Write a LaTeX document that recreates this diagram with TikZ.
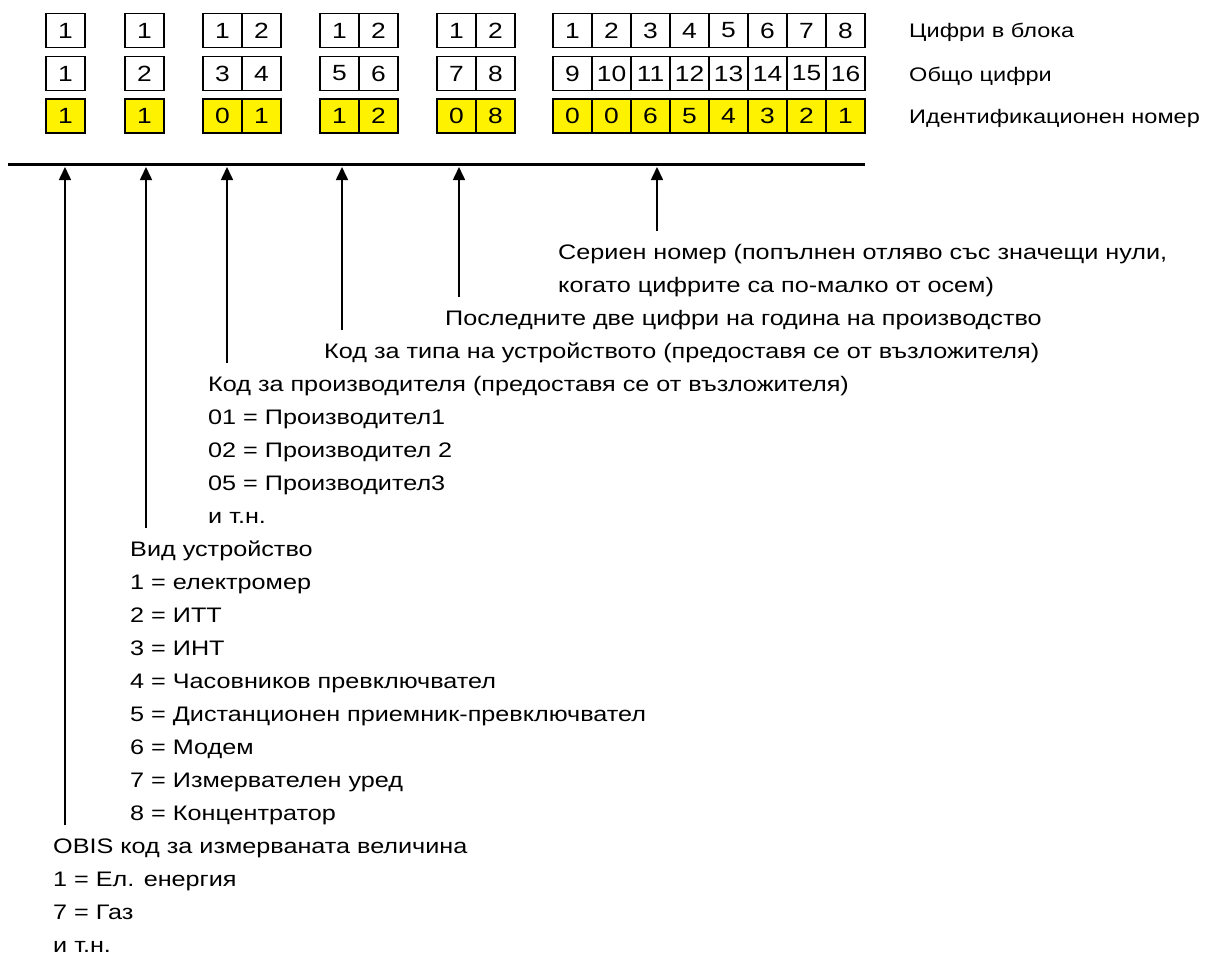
\documentclass[tikz,border=0pt]{standalone}
\usepackage{fontspec}
\setmainfont[FakeStretch=1.2]{Liberation Sans}
\usetikzlibrary{arrows.meta}
\begin{document}
\begin{tikzpicture}[x=1pt,y=-1pt,
		cell/.style={draw,line width=1.2pt,minimum width=39pt,minimum height=34pt,inner sep=0pt,font=\fontsize{22}{22}\selectfont},
		idcell/.style={cell,fill=yellow},
		rowlabel/.style={anchor=west,inner sep=0pt,font=\fontsize{19.6}{24}\selectfont},
		note/.style={anchor=north west,align=left,inner xsep=0pt,inner ysep=5pt,font=\fontsize{21}{33}\selectfont},
		pfeil/.style={line width=1.6pt,-{Triangle[length=13pt,width=12pt]}}]
			\fill[white] (0,0) rectangle (1213,955);
			\useasboundingbox (0,0) rectangle (1213,955);
			\foreach \g/\left/\off/\digs in {a/46/0/{1}, b/125/1/{1}, c/203/2/{0,1}, d/320/4/{1,2}, e/437/6/{0,8}, f/553/8/{0,0,6,5,4,3,2,1}}
				\foreach \d [count=\i] in \digs {
					\pgfmathtruncatemacro\tot{\off+\i}
					\node[cell] (\g-blk-\i) at ({\left+39*\i-19.5},30.5) {\i};
					\node[cell] (\g-tot-\i) at ({\left+39*\i-19.5},73.5) {\tot};
					\node[idcell] (\g-id-\i) at ({\left+39*\i-19.5},116) {\d};
				}
			\node[rowlabel] (lblblock) at (909,32) {Цифри в блока};
			\node[rowlabel] (lbltotal) at (909,76) {Общо цифри};
			\node[rowlabel] (lblid) at (909,118) {Идентификационен номер};
			\coordinate (busL) at (8,165);
			\coordinate (busR) at (865,165);
			\draw[line width=3pt] (busL) -- (busR);
			\coordinate (t1) at (65,167);
			\coordinate (t2) at (146,167);
			\coordinate (t3) at (227,167);
			\coordinate (t4) at (342,167);
			\coordinate (t5) at (459,167);
			\coordinate (t6) at (657,167);
			\node[note] (serial) at (558,231) {\strut Сериен номер (попълнен отляво със значещи нули,\\когато цифрите са по-малко от осем)};
			\node[note] (year) at (445,297) {\strut Последните две цифри на година на производство};
			\node[note] (type) at (324,330) {\strut Код за типа на устройството (предоставя се от възложителя)};
			\node[note] (maker) at (208,363) {\strut Код за производителя (предоставя се от възложителя)\\01 = Производител1\\02 = Производител 2\\05 = Производител3\\и т.н.};
			\node[note] (device) at (130,528) {\strut Вид устройство\\1 = електромер\\2 = ИТТ\\3 = ИНТ\\4 = Часовников превключвател\\5 = Дистанционен приемник-превключвател\\6 = Модем\\7 = Измервателен уред\\8 = Концентратор};
			\node[note] (obis) at (53,825) {\strut OBIS код за измерваната величина\\1 = Ел. енергия\\7 = Газ\\и т.н.};
			\draw[pfeil] (obis.north -| t1) -- (t1);
			\draw[pfeil] (device.north -| t2) -- (t2);
			\draw[pfeil] (maker.north -| t3) -- (t3);
			\draw[pfeil] (type.north -| t4) -- (t4);
			\draw[pfeil] (year.north -| t5) -- (t5);
			\draw[pfeil] (serial.north -| t6) -- (t6);
\end{tikzpicture}
\end{document}
